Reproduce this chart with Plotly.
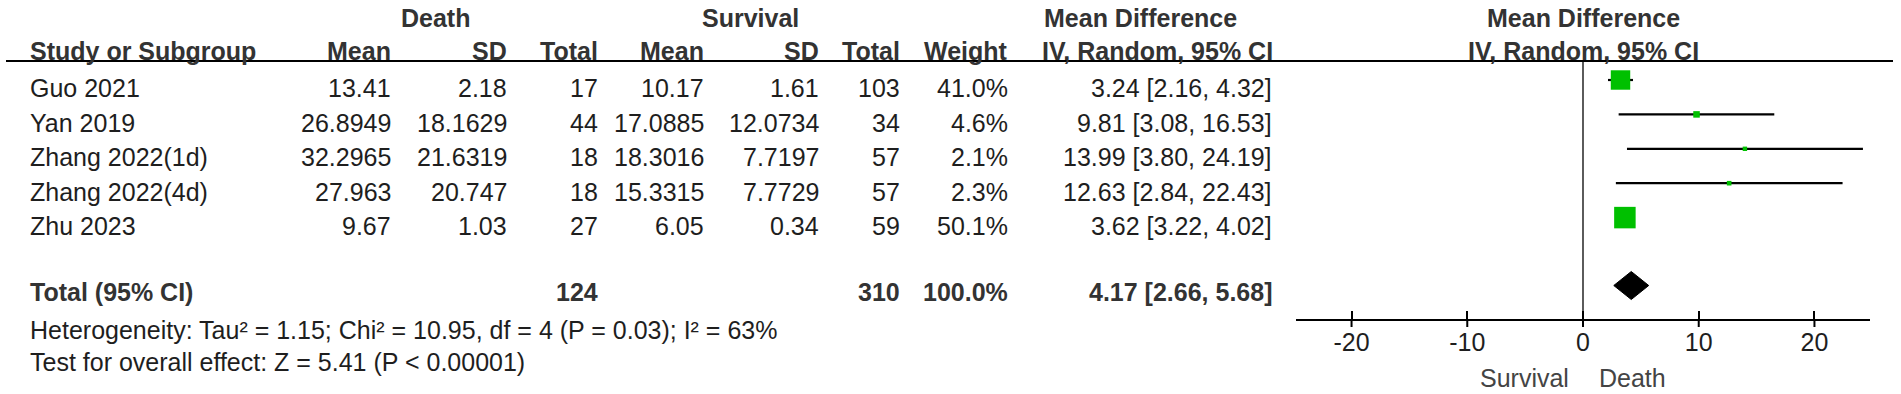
import plotly.graph_objects as go

# ---------------- data ----------------
studies = ["Guo 2021", "Yan 2019", "Zhang 2022(1d)", "Zhang 2022(4d)", "Zhu 2023"]
death_mean = ["13.41", "26.8949", "32.2965", "27.963", "9.67"]
death_sd = ["2.18", "18.1629", "21.6319", "20.747", "1.03"]
death_n = [17, 44, 18, 18, 27]
surv_mean = ["10.17", "17.0885", "18.3016", "15.3315", "6.05"]
surv_sd = ["1.61", "12.0734", "7.7197", "7.7729", "0.34"]
surv_n = [103, 34, 57, 57, 59]
weights = [41.0, 4.6, 2.1, 2.3, 50.1]
md = [3.24, 9.81, 13.99, 12.63, 3.62]
ci_lo = [2.16, 3.08, 3.80, 2.84, 3.22]
ci_hi = [4.32, 16.53, 24.19, 22.43, 4.02]

total_death_n = 124
total_surv_n = 310
total_weight = 100.0
total_md = 4.17
total_lo = 2.66
total_hi = 5.68

heterogeneity = "Heterogeneity: Tau² = 1.15; Chi² = 10.95, df = 4 (P = 0.03); I² = 63%"
overall = "Test for overall effect: Z = 5.41 (P < 0.00001)"
tick_vals = [-20, -10, 0, 10, 20]
tick_text = ["-20", "-10", "0", "10", "20"]
favours_left = "Survival"
favours_right = "Death"

# ---------------- layout constants ----------------
W, H = 1901, 394
FONT = "Liberation Sans, Arial, sans-serif"
FS = 25
TXT = "#1e1e1e"
BOLD = "#333333"
GREEN = "#00C000"

row_text_y = [88.3 + 34.4 * i for i in range(len(studies))]
row_mark_y = [y - 8.3 for y in row_text_y]
total_text_y = 291.7
total_mark_y = 285.5
head1_y = 17.5
head2_y = 50.5
line_y = 61
axis_y = 320

plot_x0, plot_x1 = 1296, 1870
xr = [-24.8, 24.8]

fig = go.Figure()

# CI lines
for i in range(len(studies)):
    fig.add_trace(go.Scatter(x=[ci_lo[i], ci_hi[i]], y=[row_mark_y[i], row_mark_y[i]],
                             mode="lines", line=dict(color="black", width=2.2),
                             hoverinfo="skip", showlegend=False))
# squares (area proportional to weight)
wmax = max(weights)
sizes = [21.5 * (w / wmax) ** 0.5 for w in weights]
fig.add_trace(go.Scatter(x=md, y=row_mark_y, mode="markers",
                         marker=dict(symbol="square", size=sizes, color=GREEN, opacity=1,
                                     line=dict(width=0)),
                         hoverinfo="skip", showlegend=False))
# diamond
fig.add_trace(go.Scatter(x=[total_lo, total_md, total_hi, total_md, total_lo],
                         y=[total_mark_y, total_mark_y - 14, total_mark_y, total_mark_y + 14, total_mark_y],
                         mode="lines", fill="toself", fillcolor="black",
                         line=dict(color="black", width=1),
                         hoverinfo="skip", showlegend=False))
# line of no effect
fig.add_trace(go.Scatter(x=[0, 0], y=[line_y, axis_y], mode="lines",
                         line=dict(color="#333333", width=1.6),
                         hoverinfo="skip", showlegend=False))
# lower part of tick marks (upper part drawn by the axis itself)
for tv in tick_vals:
    fig.add_trace(go.Scatter(x=[tv, tv], y=[axis_y, axis_y + 7], mode="lines",
                             line=dict(color="black", width=2),
                             hoverinfo="skip", showlegend=False))

ann = []


def px(x):
    return x / W


def add(text, x, y, anchor="right", bold=False, color=None, size=FS, xref="paper"):
    ann.append(dict(text=f"<b>{text}</b>" if bold else text,
                    x=px(x) if xref == "paper" else x, y=y, xref=xref, yref="y",
                    xanchor=anchor, yanchor="middle", showarrow=False,
                    font=dict(family=FONT, size=size, color=color or (BOLD if bold else TXT))))


# headers
add("Death", 435, head1_y, "center", bold=True)
add("Survival", 750, head1_y, "center", bold=True)
add("Mean Difference", 1042, head1_y, "left", bold=True)
add("Mean Difference", 1583, head1_y, "center", bold=True)
add("Study or Subgroup", 28, head2_y, "left", bold=True)
col_right = dict(dm=393, dsd=509, dn=600, sm=706, ssd=821, sn=902, w=1010, ci=1274)
add("Mean", col_right["dm"], head2_y, bold=True)
add("SD", col_right["dsd"], head2_y, bold=True)
add("Total", col_right["dn"], head2_y, bold=True)
add("Mean", col_right["sm"], head2_y, bold=True)
add("SD", col_right["ssd"], head2_y, bold=True)
add("Total", col_right["sn"], head2_y, bold=True)
add("Weight", col_right["w"], head2_y, bold=True)
add("IV, Random, 95% CI", 1040, head2_y, "left", bold=True)
add("IV, Random, 95% CI", 1583, head2_y, "center", bold=True)

for i, s in enumerate(studies):
    y = row_text_y[i]
    add(s, 28, y, "left")
    add(death_mean[i], col_right["dm"], y)
    add(death_sd[i], col_right["dsd"], y)
    add(str(death_n[i]), col_right["dn"], y)
    add(surv_mean[i], col_right["sm"], y)
    add(surv_sd[i], col_right["ssd"], y)
    add(str(surv_n[i]), col_right["sn"], y)
    add(f"{weights[i]:.1f}%", col_right["w"], y)
    add(f"{md[i]:.2f} [{ci_lo[i]:.2f}, {ci_hi[i]:.2f}]", col_right["ci"], y)

add("Total (95% CI)", 28, total_text_y, "left", bold=True)
add(str(total_death_n), col_right["dn"], total_text_y, bold=True)
add(str(total_surv_n), col_right["sn"], total_text_y, bold=True)
add(f"{total_weight:.1f}%", col_right["w"], total_text_y, bold=True)
add(f"{total_md:.2f} [{total_lo:.2f}, {total_hi:.2f}]", col_right["ci"], total_text_y, bold=True)
add(heterogeneity, 28, 329.5, "left")
add(overall, 28, 361.5, "left")

# favours labels (in data coords of the forest axis)
add(favours_left, -1.0, 378, "right", color="#444444", xref="x")
add(favours_right, 1.2, 378, "left", color="#444444", xref="x")

fig.update_layout(
    width=W, height=H, margin=dict(l=0, r=0, t=0, b=0),
    paper_bgcolor="white", plot_bgcolor="white",
    annotations=ann,
    shapes=[dict(type="line", xref="paper", yref="y", x0=px(6), x1=px(1893),
                 y0=line_y, y1=line_y, line=dict(color="black", width=2))],
    xaxis=dict(domain=[plot_x0 / W, plot_x1 / W], range=xr, anchor="free",
               position=(H - axis_y) / H, showline=True, linecolor="black", linewidth=2,
               ticks="inside", ticklen=8, tickwidth=2, tickcolor="black",
               tickvals=tick_vals, ticktext=tick_text,
               tickfont=dict(family=FONT, size=FS, color=TXT),
               showgrid=False, zeroline=False, fixedrange=True),
    yaxis=dict(domain=[0, 1], range=[H, 0], visible=False, showgrid=False,
               zeroline=False, fixedrange=True),
    showlegend=False,
)

fig.write_html("out.html", config={"staticPlot": True},
               post_script="document.body.style.margin='0';document.body.style.padding='0';")
